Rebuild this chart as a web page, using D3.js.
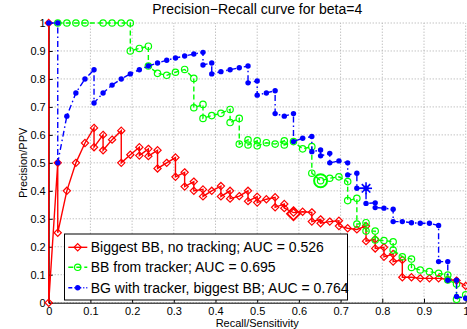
<!DOCTYPE html>
<html>
<head>
<meta charset="utf-8">
<script src="https://d3js.org/d3.v7.min.js"></script>
<style>
  body { margin: 0; background: #fff; }
  svg { display: block; font-family: "Liberation Sans", Arial, sans-serif; }
</style>
</head>
<body>
<svg id="chart" width="467" height="329"></svg>
<script>
// [recall, precision] pairs
const biggestBB = [
  [0, 1], [0, 0], [0.0217, 0.5], [0.0217, 0.25], [0.0435, 0.4], [0.0652, 0.5], [0.087, 0.571],
  [0.1087, 0.625], [0.1087, 0.556], [0.1304, 0.6], [0.1304, 0.545], [0.152, 0.583], [0.174, 0.615],
  [0.174, 0.5], [0.1957, 0.529], [0.2174, 0.556], [0.2174, 0.526], [0.239, 0.55], [0.239, 0.524],
  [0.261, 0.545], [0.261, 0.48], [0.283, 0.5], [0.304, 0.519], [0.304, 0.45], [0.326, 0.466],
  [0.326, 0.415], [0.348, 0.433], [0.348, 0.4], [0.37, 0.405], [0.37, 0.38], [0.391, 0.4],
  [0.413, 0.417], [0.413, 0.38], [0.435, 0.4], [0.435, 0.372], [0.457, 0.381], [0.478, 0.4],
  [0.478, 0.363], [0.5, 0.379], [0.5, 0.358], [0.522, 0.37], [0.543, 0.377], [0.543, 0.341],
  [0.565, 0.353], [0.565, 0.338], [0.587, 0.322], [0.609, 0.325], [0.631, 0.323], [0.631, 0.29],
  [0.652, 0.298], [0.652, 0.284], [0.674, 0.29], [0.696, 0.293], [0.696, 0.274], [0.717, 0.266],
  [0.739, 0.262], [0.761, 0.274], [0.761, 0.22], [0.783, 0.227], [0.783, 0.194], [0.804, 0.198],
  [0.804, 0.164], [0.826, 0.174], [0.826, 0.147], [0.848, 0.153], [0.848, 0.091], [0.87, 0.091],
  [0.891, 0.087], [0.913, 0.087], [0.935, 0.087], [0.957, 0.084], [0.978, 0.079], [1, 0.06]
];

const fromTracker = [
  [0.0217, 1], [0.0435, 1], [0.0652, 1], [0.087, 1], [0.1304, 1], [0.152, 1], [0.174, 1],
  [0.1957, 1], [0.1957, 0.9], [0.2174, 0.909], [0.239, 0.917], [0.239, 0.846], [0.261, 0.82],
  [0.283, 0.813], [0.304, 0.824], [0.326, 0.834], [0.348, 0.802], [0.348, 0.697], [0.37, 0.709],
  [0.37, 0.659], [0.391, 0.669], [0.413, 0.677], [0.435, 0.691], [0.435, 0.644], [0.457, 0.659],
  [0.457, 0.567], [0.478, 0.582], [0.478, 0.564], [0.5, 0.579], [0.5, 0.561], [0.522, 0.572],
  [0.543, 0.567], [0.565, 0.579], [0.565, 0.564], [0.587, 0.576], [0.609, 0.55], [0.631, 0.558],
  [0.631, 0.463], [0.652, 0.436], [0.674, 0.445], [0.696, 0.45], [0.717, 0.433], [0.717, 0.365],
  [0.739, 0.373], [0.739, 0.281], [0.761, 0.286], [0.761, 0.256], [0.783, 0.256], [0.783, 0.224],
  [0.804, 0.222], [0.826, 0.218], [0.826, 0.188], [0.848, 0.164], [0.87, 0.156], [0.87, 0.126],
  [0.891, 0.117], [0.913, 0.111], [0.935, 0.105], [0.957, 0.099], [0.957, 0.081], [0.978, 0.067],
  [0.978, 0.012], [1, 0.028]
];

const withTracker = [
  [0, 1], [0.0217, 1], [0.0217, 0.5], [0.0435, 0.667], [0.0652, 0.75], [0.087, 0.8],
  [0.1087, 0.833], [0.1087, 0.714], [0.1304, 0.75], [0.152, 0.778], [0.174, 0.8], [0.1957, 0.818],
  [0.2174, 0.833], [0.239, 0.846], [0.261, 0.857], [0.283, 0.867], [0.304, 0.875], [0.326, 0.882],
  [0.348, 0.889], [0.37, 0.895], [0.37, 0.85], [0.391, 0.857], [0.391, 0.818], [0.413, 0.826],
  [0.435, 0.833], [0.457, 0.84], [0.478, 0.846], [0.478, 0.786], [0.5, 0.793], [0.5, 0.742],
  [0.522, 0.75], [0.543, 0.758], [0.543, 0.676], [0.565, 0.667], [0.587, 0.676], [0.587, 0.576],
  [0.609, 0.588], [0.631, 0.594], [0.631, 0.54], [0.652, 0.546], [0.652, 0.525], [0.674, 0.534],
  [0.674, 0.5], [0.696, 0.507], [0.717, 0.5], [0.717, 0.457], [0.739, 0.463], [0.739, 0.409],
  [0.761, 0.409], [0.761, 0.355], [0.783, 0.357], [0.783, 0.34], [0.804, 0.338], [0.826, 0.334],
  [0.826, 0.29], [0.848, 0.29], [0.87, 0.286], [0.891, 0.284], [0.913, 0.284], [0.935, 0.276],
  [0.935, 0.147], [0.957, 0.147], [0.957, 0.08], [0.978, 0.08], [0.978, 0.022], [1, 0.016]
];

// best F-beta points (big markers)
const bestRed = [0.587, 0.318];
const bestGreen = [0.652, 0.436];
const bestBlue = [0.761, 0.409];

const legendLabels = [
  'Biggest BB, no tracking; AUC = 0.526',
  'BB from tracker; AUC = 0.695',
  'BG with tracker, biggest BB; AUC = 0.764'
];
const tickValues = [0, 0.1, 0.2, 0.3, 0.4, 0.5, 0.6, 0.7, 0.8, 0.9, 1];
const tickLabels = ['0', '0.1', '0.2', '0.3', '0.4', '0.5', '0.6', '0.7', '0.8', '0.9', '1'];

const svg = d3.select('#chart');

const x = d3.scaleLinear().domain([0, 1]).range([48.7, 465.7]);
const y = d3.scaleLinear().domain([0, 1]).range([302.7, 23]);

// dotted grid
const grid = svg.append('g')
  .attr('stroke', '#a8a8a8')
  .attr('stroke-width', 1)
  .attr('stroke-dasharray', '1,2');
grid.selectAll('.vg').data(tickValues).enter().append('line')
  .attr('x1', d => x(d)).attr('x2', d => x(d))
  .attr('y1', y(0)).attr('y2', y(1));
grid.selectAll('.hg').data(tickValues).enter().append('line')
  .attr('x1', x(0)).attr('x2', x(1))
  .attr('y1', d => y(d)).attr('y2', d => y(d));

// axes
const xAxis = svg.append('g')
  .attr('transform', `translate(0,${y(0)})`)
  .call(d3.axisBottom(x).tickValues(tickValues).tickFormat((d, i) => tickLabels[i])
    .tickSizeInner(-4).tickSizeOuter(0).tickPadding(5));
const yAxis = svg.append('g')
  .attr('transform', `translate(${x(0)},0)`)
  .call(d3.axisLeft(y).tickValues(tickValues).tickFormat((d, i) => tickLabels[i])
    .tickSizeInner(-4).tickSizeOuter(0).tickPadding(3));
[xAxis, yAxis].forEach(a => {
  a.attr('font-family', null).attr('font-size', 11);
  a.selectAll('text').attr('fill', '#000');
  a.selectAll('line, path').attr('stroke', '#000');
});

const line = d3.line().x(d => x(d[0])).y(d => y(d[1]));

const diamond = r => `M0,${-r}L${r},0L0,${r}L${-r},0Z`;

// red: solid line, diamonds
svg.append('path').datum(biggestBB)
  .attr('d', line).attr('fill', 'none')
  .attr('stroke', '#ff0000').attr('stroke-width', 1.4);
svg.append('g').selectAll('path').data(biggestBB).enter().append('path')
  .attr('transform', d => `translate(${x(d[0])},${y(d[1])})`)
  .attr('d', diamond(3.6))
  .attr('fill', 'none').attr('stroke', '#ff0000').attr('stroke-width', 1.2);

// green: dashed line, circles
svg.append('path').datum(fromTracker)
  .attr('d', line).attr('fill', 'none')
  .attr('stroke', '#00ff00').attr('stroke-width', 1.4)
  .attr('stroke-dasharray', '5,3');
svg.append('g').selectAll('circle').data(fromTracker).enter().append('circle')
  .attr('cx', d => x(d[0])).attr('cy', d => y(d[1])).attr('r', 3.2)
  .attr('fill', 'none').attr('stroke', '#00ff00').attr('stroke-width', 1.2);

// blue: dash-dot line, dots
svg.append('path').datum(withTracker)
  .attr('d', line).attr('fill', 'none')
  .attr('stroke', '#0000ff').attr('stroke-width', 1.4)
  .attr('stroke-dasharray', '6,3,1.5,3');
svg.append('g').selectAll('circle').data(withTracker).enter().append('circle')
  .attr('cx', d => x(d[0])).attr('cy', d => y(d[1])).attr('r', 2.7)
  .attr('fill', '#0000ff');

// big markers at best points
svg.append('path')
  .attr('transform', `translate(${x(bestRed[0])},${y(bestRed[1])})`)
  .attr('d', diamond(6.5))
  .attr('fill', 'none').attr('stroke', '#ff0000').attr('stroke-width', 1.8);
svg.append('circle')
  .attr('cx', x(bestGreen[0])).attr('cy', y(bestGreen[1])).attr('r', 6.5)
  .attr('fill', 'none').attr('stroke', '#00ff00').attr('stroke-width', 2);
const star = svg.append('g')
  .attr('transform', `translate(${x(bestBlue[0])},${y(bestBlue[1])})`)
  .attr('stroke', '#0000ff').attr('stroke-width', 1.6);
[0, 45, 90, 135].forEach(a => {
  star.append('line').attr('x1', -6).attr('x2', 6).attr('y1', 0).attr('y2', 0)
    .attr('transform', `rotate(${a})`);
});

// title and axis labels
svg.append('text')
  .attr('x', x(0.5)).attr('y', 13.5)
  .attr('text-anchor', 'middle').attr('font-size', 14)
  .text('Precision\u2212Recall curve for beta=4');
svg.append('text')
  .attr('x', x(0.5)).attr('y', 327)
  .attr('text-anchor', 'middle').attr('font-size', 11)
  .text('Recall/Sensitivity');
svg.append('text')
  .attr('transform', `translate(26.5,${y(0.5)}) rotate(-90)`)
  .attr('text-anchor', 'middle').attr('font-size', 11)
  .text('Precision/PPV');

// legend
const legend = svg.append('g');
legend.append('rect')
  .attr('x', 64.5).attr('y', 234).attr('width', 283).attr('height', 66)
  .attr('fill', '#fff').attr('stroke', '#000').attr('stroke-width', 1);
const rowY = [247.3, 267.3, 287.7];
const styles = [
  { color: '#ff0000', dash: null },
  { color: '#00ff00', dash: '5,3' },
  { color: '#0000ff', dash: '4,2,1,2' }
];
legendLabels.forEach((label, i) => {
  const ry = rowY[i];
  legend.append('line')
    .attr('x1', 68.3).attr('x2', 87.3).attr('y1', ry).attr('y2', ry)
    .attr('stroke', styles[i].color).attr('stroke-width', 1.4)
    .attr('stroke-dasharray', styles[i].dash);
  if (i === 0) {
    legend.append('path').attr('transform', `translate(77.7,${ry})`)
      .attr('d', diamond(3.6)).attr('fill', 'none')
      .attr('stroke', '#ff0000').attr('stroke-width', 1.2);
  } else if (i === 1) {
    legend.append('circle').attr('cx', 77.7).attr('cy', ry).attr('r', 3.2)
      .attr('fill', 'none').attr('stroke', '#00ff00').attr('stroke-width', 1.2);
  } else {
    legend.append('circle').attr('cx', 77.7).attr('cy', ry).attr('r', 2.7)
      .attr('fill', '#0000ff');
  }
  legend.append('text')
    .attr('x', 90.7).attr('y', ry).attr('dy', '0.36em')
    .attr('font-size', 14)
    .text(label);
});
</script>
</body>
</html>
